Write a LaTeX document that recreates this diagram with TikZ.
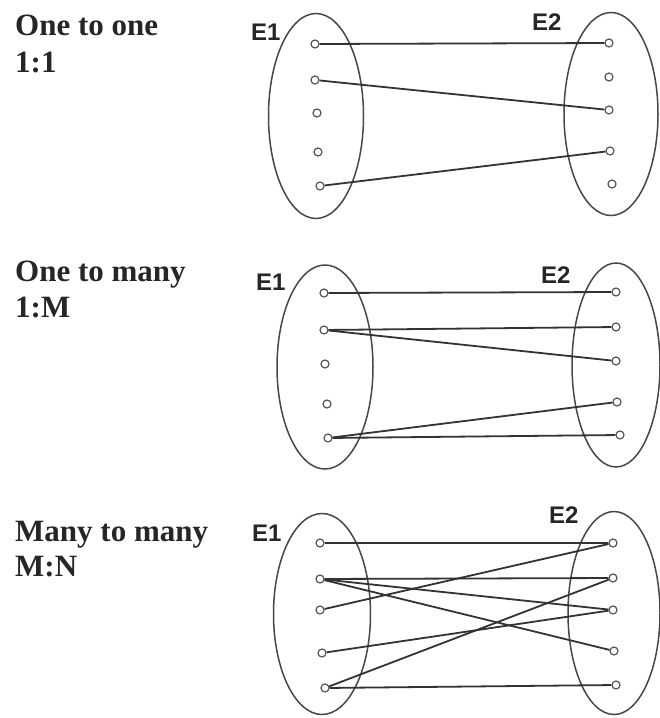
\documentclass[tikz,border=0pt]{standalone}
\usepackage{fontspec}
\setmainfont{Liberation Serif}
\setsansfont{Liberation Sans}
\usetikzlibrary{shapes.geometric}
\definecolor{inkgray}{HTML}{333333}
\definecolor{setgray}{HTML}{474747}
\definecolor{dotgray}{HTML}{555555}
\begin{document}
\begin{tikzpicture}[x=1pt,y=-1pt,
  entityset/.style={draw=setgray, line width=1.5pt, ellipse, inner sep=0pt},
  member/.style={draw=dotgray, line width=1.2pt, circle, fill=white, minimum size=8pt, inner sep=0pt},
  link/.style={draw=inkgray, line width=1.8pt},
  heading/.style={font=\fontsize{31}{31}\selectfont\bfseries, text=black!85, anchor=base west, inner sep=0pt},
  setname/.style={font=\sffamily\bfseries\fontsize{24}{24}\selectfont, text=black!85, anchor=base west, inner sep=0pt}]
\useasboundingbox[fill=white] (0,0) rectangle (660,718);

% ---------- one to one ----------
\node[heading] (ht1) at (15,35) {One to one};
\node[heading] (hr1) at (15,72) {1:1};
\node[entityset, minimum width=95pt, minimum height=205pt] (pL) at (316,116) {};
\node[entityset, minimum width=94pt, minimum height=203pt] (pR) at (611,114) {};
\node[setname] (pE1) at (251,40) {E1};
\node[setname] (pE2) at (532,30) {E2};
\node[member] (pa1) at (315,44) {};
\node[member] (pa2) at (315,80) {};
\node[member] (pa3) at (317,113) {};
\node[member] (pa4) at (318,152) {};
\node[member] (pa5) at (320,186) {};
\node[member] (pb1) at (609,43) {};
\node[member] (pb2) at (609,77) {};
\node[member] (pb3) at (609,110) {};
\node[member] (pb4) at (610,151) {};
\node[member] (pb5) at (612,184) {};
\draw[link] (pa1) -- (pb1);
\draw[link] (pa2) -- (pb3);
\draw[link] (pa5) -- (pb4);

% ---------- one to many ----------
\node[heading] (ht2) at (15,281) {One to many};
\node[heading] (hr2) at (15,317) {1:M};
\node[entityset, minimum width=96pt, minimum height=204pt] (qL) at (325,367) {};
\node[entityset, minimum width=88pt, minimum height=204pt] (qR) at (616,365) {};
\node[setname] (qE1) at (256,290) {E1};
\node[setname] (qE2) at (541,283) {E2};
\node[member] (qa1) at (324,293) {};
\node[member] (qa2) at (324,330) {};
\node[member] (qa3) at (325,364) {};
\node[member] (qa4) at (327,404) {};
\node[member] (qa5) at (328,438) {};
\node[member] (qb1) at (616,292) {};
\node[member] (qb2) at (616,327) {};
\node[member] (qb3) at (616,361) {};
\node[member] (qb4) at (617,402) {};
\node[member] (qb5) at (620,435) {};
\draw[link] (qa1) -- (qb1);
\draw[link] (qa2) -- (qb2);
\draw[link] (qa2) -- (qb3);
\draw[link] (qa5) -- (qb4);
\draw[link] (qa5) -- (qb5);

% ---------- many to many ----------
\node[heading] (ht3) at (15,541) {Many to many};
\node[heading] (hr3) at (15,576) {M:N};
\node[entityset, minimum width=97pt, minimum height=201pt] (rL) at (322,614) {};
\node[entityset, minimum width=92pt, minimum height=203pt] (rR) at (614,613) {};
\node[setname] (rE1) at (252,541) {E1};
\node[setname] (rE2) at (549,523) {E2};
\node[member] (ra1) at (320,543) {};
\node[member] (ra2) at (320,579) {};
\node[member] (ra3) at (320,610) {};
\node[member] (ra4) at (322,653) {};
\node[member] (ra5) at (325,688) {};
\node[member] (rb1) at (613,543) {};
\node[member] (rb2) at (613,578) {};
\node[member] (rb3) at (613,610) {};
\node[member] (rb4) at (614,651) {};
\node[member] (rb5) at (616,685) {};
\draw[link] (ra1) -- (rb1);
\draw[link] (ra2) -- (rb2);
\draw[link] (ra2) -- (rb3);
\draw[link] (ra2) -- (rb4);
\draw[link] (ra3) -- (rb1);
\draw[link] (ra4) -- (rb3);
\draw[link] (ra5) -- (rb2);
\draw[link] (ra5) -- (rb5);
\end{tikzpicture}
\end{document}
